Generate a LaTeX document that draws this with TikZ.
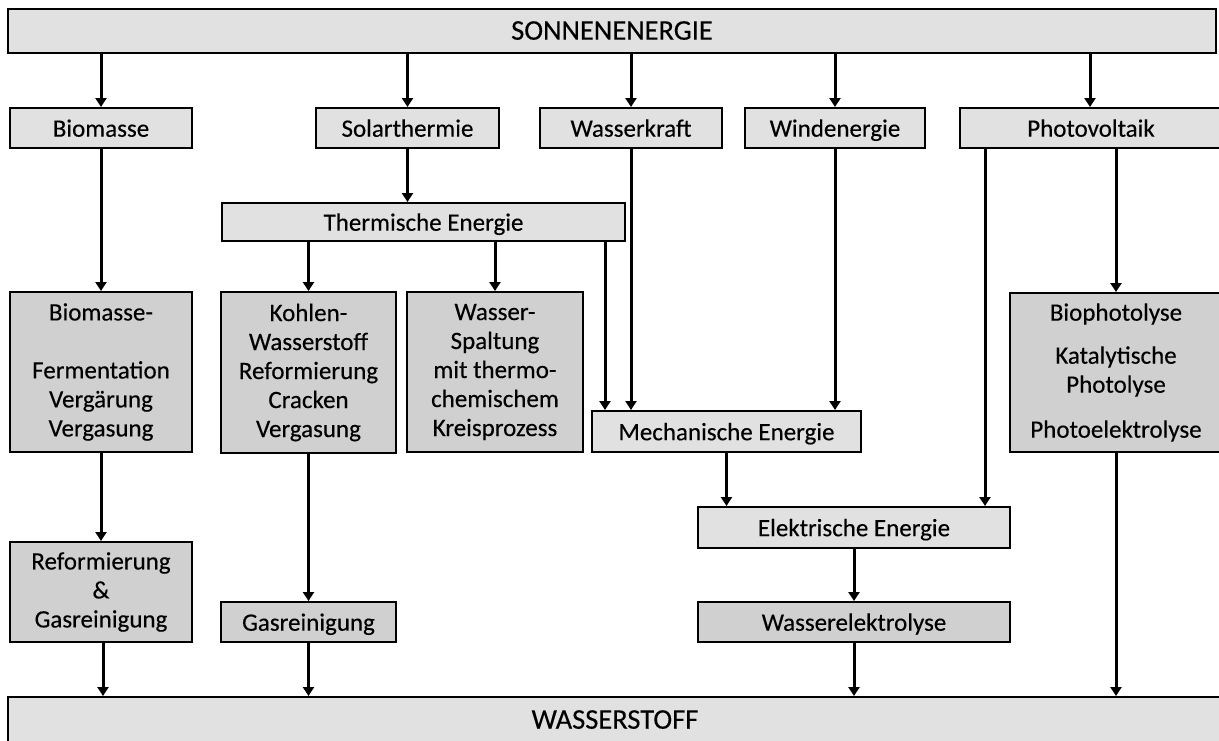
\documentclass[tikz,border=0pt]{standalone}
\usepackage{fontspec}
\setmainfont{Carlito}[FakeBold=0.3]
\usetikzlibrary{arrows.meta}
\definecolor{lightbox}{HTML}{E1E1E1}
\definecolor{darkbox}{HTML}{D0D0D0}
\tikzset{
  box/.style={draw=black, line width=2pt, inner sep=0pt, align=center,
    font=\fontsize{25}{29}\selectfont},
  lbox/.style={box, fill=lightbox},
  dbox/.style={box, fill=darkbox},
  oneline/.style={text height=22pt, text depth=4.6pt},
  bigtext/.style={font=\fontsize{28.5}{34}\selectfont},
  arr/.style={line width=3pt, -{Triangle[length=9pt,width=11pt]}},
}
\begin{document}
\begin{tikzpicture}[x=1pt,y=-1pt]
\useasboundingbox (0,0) rectangle (1219,740);
% top and bottom
\node[lbox, oneline, bigtext, minimum width=1208pt, minimum height=44pt] (son) at (612,31) {SONNENENERGIE};
\node[lbox, oneline, bigtext, minimum width=1214pt, minimum height=46pt] (wst) at (615,720) {WASSERSTOFF};
% row 2
\node[lbox, oneline, minimum width=182pt, minimum height=40pt] (bio) at (101,128) {Biomasse};
\node[lbox, oneline, minimum width=183pt, minimum height=40pt] (sol) at (407.5,128) {Solarthermie};
\node[lbox, oneline, minimum width=182pt, minimum height=40pt] (wk) at (631,128) {Wasserkraft};
\node[lbox, oneline, minimum width=180pt, minimum height=40pt] (wind) at (835,128) {Windenergie};
\node[lbox, oneline, minimum width=262pt, minimum height=40pt] (pv) at (1091,128) {Photovoltaik};
% thermische
\node[lbox, oneline, minimum width=403pt, minimum height=38pt] (therm) at (423.5,222) {Thermische Energie};
% row 3
\node[dbox, minimum width=182pt, minimum height=160pt] (biof) at (101,372)
  {Biomasse-\\[29pt]Fermentation\\Vergärung\\Vergasung};
\node[dbox, minimum width=175pt, minimum height=161pt] (kohl) at (308.5,372.5)
  {Kohlen-\\Wasserstoff\\Reformierung\\Cracken\\Vergasung};
\node[dbox, minimum width=176pt, minimum height=160pt] (wsp) at (495,372)
  {Wasser-\\Spaltung\\mit thermo-\\chemischem\\Kreisprozess};
\node[dbox, minimum width=212pt, minimum height=159pt] (bp) at (1116,372.5)
  {Biophotolyse\\[14pt]Katalytische\\Photolyse\\[16pt]Photoelektrolyse};
\node[lbox, oneline, minimum width=269pt, minimum height=41pt] (mech) at (726.5,431.5) {Mechanische Energie};
% lower
\node[lbox, oneline, minimum width=312pt, minimum height=41pt] (elek) at (854,527.5) {Elektrische Energie};
\node[dbox, oneline, minimum width=312pt, minimum height=40pt] (we) at (854,622) {Wasserelektrolyse};
\node[dbox, minimum width=182pt, minimum height=100pt] (ref) at (101,592)
  {Reformierung\\\&\\Gasreinigung};
\node[dbox, oneline, minimum width=175pt, minimum height=40pt] (gas) at (308.5,622) {Gasreinigung};
% helper coordinates
\coordinate (m1) at ([xshift=14pt]mech.north west);
\coordinate (e1) at ([xshift=-26pt]elek.north east);
\coordinate (p1) at ([xshift=-1pt]pv.north);
% connectors
\draw[arr] (son.south -| bio.north) -- (bio.north);
\draw[arr] (son.south -| sol.north) -- (sol.north);
\draw[arr] (son.south -| wk.north) -- (wk.north);
\draw[arr] (son.south -| wind.north) -- (wind.north);
\draw[arr] (son.south -| p1) -- (p1);
\draw[arr] (sol.south) -- (sol.south |- therm.north);
\draw[arr] (bio.south) -- (biof.north);
\draw[arr] (therm.south -| kohl.north) -- (kohl.north);
\draw[arr] (therm.south -| wsp.north) -- (wsp.north);
\draw[arr] (therm.south -| m1) -- (m1);
\draw[arr] (wk.south) -- (wk.south |- mech.north);
\draw[arr] (wind.south) -- (wind.south |- mech.north);
\draw[arr] (mech.south) -- (mech.south |- elek.north);
\draw[arr] (pv.south -| e1) -- (e1);
\draw[arr] (pv.south -| bp.north) -- (bp.north);
\draw[arr] (elek.south) -- (we.north);
\draw[arr] (we.south) -- (we.south |- wst.north);
\draw[arr] (bp.south) -- (bp.south |- wst.north);
\draw[arr] (biof.south) -- (ref.north);
\draw[arr] ([xshift=2pt]ref.south) -- ([xshift=2pt]ref.south |- wst.north);
\draw[arr] (kohl.south) -- (gas.north);
\draw[arr] (gas.south) -- (gas.south |- wst.north);
\end{tikzpicture}
\end{document}
